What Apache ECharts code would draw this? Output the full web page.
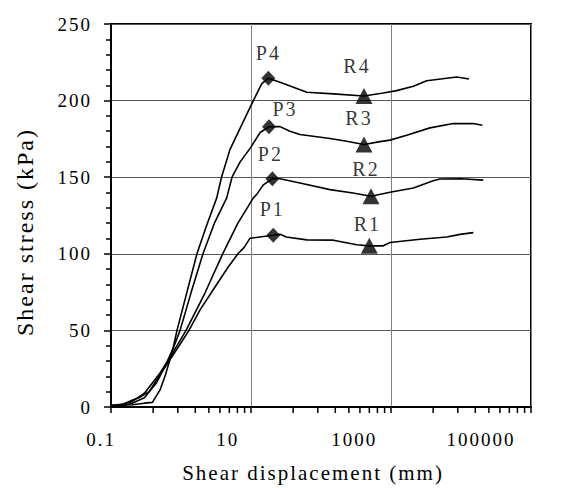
<!DOCTYPE html>
<html><head><meta charset="utf-8">
<script src="https://cdn.jsdelivr.net/npm/echarts@6/dist/echarts.min.js"></script>
<style>
html,body{margin:0;padding:0;background:#fff;}
#chart{width:577px;height:488px;}
#chart text{letter-spacing:2px;font-family:"Liberation Serif",serif !important;}
</style></head><body><div id="chart"></div>
<script>
// ---- data (shear displacement in mm, shear stress in kPa) ----
const xTickLabels = ['0.1', '10', '1000', '100000'];
const xMinorTicks = [0.4, 0.9, 1.6, 2.5, 3.6, 4.9, 6.4, 8.1,
                     40, 90, 160, 250, 360, 490, 640, 810,
                     4000, 9000, 16000, 25000, 36000, 49000, 64000, 81000];

const curve1X = [0.1, 0.13, 0.15, 0.19, 0.25, 0.35, 0.57, 0.9, 1.3, 1.87, 3.06, 4.7, 6.5, 7.94, 9.7, 13.4, 20.8, 26, 32, 62.5, 150, 324, 490, 776, 967, 2600, 6250, 9680, 15000];
const curve1Y = [1, 1, 2, 4, 6, 10, 25, 38.7, 50, 63.4, 78.3, 91.2, 100, 104, 110.2, 111, 112.1, 112.7, 111, 109.1, 108.9, 105.9, 105.2, 105.2, 107.4, 109.5, 111, 112.7, 113.8];

const curve2X = [0.1, 0.15, 0.2, 0.3, 0.5, 0.8, 1.18, 2.2, 3.94, 6.5, 10.8, 12, 15, 20.2, 26, 50, 134.5, 286, 518, 967, 2090, 4000, 5000, 10000, 20800];
const curve2Y = [1, 2, 3.5, 9, 22, 37, 50, 74.4, 100, 120, 136.5, 138.6, 145, 149, 149, 146.2, 141.9, 139.7, 137.6, 140.2, 143, 147.7, 148.8, 149, 148.1];

const curve3X = [0.1, 0.15, 0.2, 0.3, 0.45, 0.6, 0.8, 0.97, 1.4, 2.06, 3, 4.5, 5.35, 7, 9.7, 13.5, 18.1, 26, 36, 50, 134.5, 233, 411, 697, 967, 1675, 3600, 7760, 15000, 20200];
const curve3Y = [1, 1, 2.5, 6, 16, 27, 40, 50, 75, 100, 120, 136.5, 150, 160, 168.8, 179.2, 182.9, 183, 180, 177.9, 175.3, 173.5, 171.4, 173.2, 174.2, 177.4, 182.2, 185, 185, 183.9];

const curve4X = [0.1, 0.2, 0.3, 0.39, 0.5, 0.6, 0.75, 0.877, 1.2, 1.69, 2.3, 3.24, 3.79, 5, 7, 10.8, 14.2, 17.7, 26, 62.7, 150, 411, 776, 1200, 2090, 3240, 6250, 8700, 13000];
const curve4Y = [1, 1.5, 2.5, 3, 11, 21, 36, 50, 74, 100, 118, 136.5, 150, 168, 182, 200, 210.9, 214.6, 212, 205.5, 204.4, 203, 205, 206.5, 209.4, 213, 214.6, 215.4, 214.1];

const peakLabels = ['P1', 'P2', 'P3', 'P4'];
const peakX = [20.8, 20.2, 18.1, 17.7];
const peakY = [112.1, 149, 182.9, 214.6];

const residualLabels = ['R1', 'R2', 'R3', 'R4'];
const residualX = [490, 518, 411, 411];
const residualY = [105.2, 137.6, 171.4, 203];

// ---- layout / styling ----
const FONT = '"Liberation Serif", serif';
// axis variable: number of 100-fold steps above 0.1 mm
const toU = v => Math.log10(v * 10) / 2;
const pairs = (xs, ys) => xs.map((x, i) => [toU(x), ys[i]]);

const peakOffsets = [[-1, -26], [-2, -25], [16, -18], [0, -25]];
const residualOffsets = [[-2, -22], [-5, -27], [-5, -26], [-7, -30]];

const labelItems = (xs, ys, names, offs) => xs.map((x, i) => ({
  value: [toU(x), ys[i]], name: names[i],
  label: { offset: offs[i] }
}));

const lineSeries = [[curve1X, curve1Y], [curve2X, curve2Y], [curve3X, curve3Y], [curve4X, curve4Y]]
  .map(([xs, ys], i) => ({
    type: 'line', name: 'curve' + (i + 1), data: pairs(xs, ys),
    symbol: 'none', lineStyle: { color: '#000', width: 1.6 }, z: 3, silent: true
  }));

const pointLabel = {
  show: true, position: 'inside', formatter: '{b}', color: '#000',
  fontFamily: FONT, fontSize: 20, align: 'center', verticalAlign: 'middle'
};

const chart = echarts.init(document.getElementById('chart'), null, { renderer: 'svg' });
chart.setOption({
  animation: false,
  backgroundColor: '#fff',
  textStyle: { fontFamily: FONT },
  grid: [
    { left: 111, top: 24, width: 420, height: 387, show: true, borderColor: '#000', borderWidth: 2, containLabel: false },
    { left: 101, top: 24, width: 380, height: 387, show: false, containLabel: false }
  ],
  xAxis: [{
    type: 'value', gridIndex: 0, min: 0, max: 3, interval: 1,
    name: 'Shear displacement (mm)', nameLocation: 'middle', nameGap: 55,
    nameTextStyle: { fontFamily: FONT, fontSize: 21, color: '#000', padding: [0, 16, 0, 0] },
    axisLine: { show: true, onZero: false, lineStyle: { color: '#000', width: 2 } },
    axisTick: { show: true, inside: false, length: 6, lineStyle: { color: '#000', width: 1.5 } },
    axisLabel: { show: false },
    splitLine: { show: true, lineStyle: { color: '#808080', width: 1 } }
  }, {
    type: 'value', gridIndex: 1, min: 0, max: 3, interval: 1,
    axisLine: { show: false }, axisTick: { show: false }, splitLine: { show: false },
    axisLabel: {
      show: true, margin: 19, color: '#000', fontFamily: FONT, fontSize: 19,
      formatter: v => xTickLabels[Math.round(v)]
    }
  }],
  yAxis: [{
    type: 'value', gridIndex: 0, min: 0, max: 250, interval: 50,
    name: 'Shear stress (kPa)', nameLocation: 'middle', nameRotate: 90, nameGap: 74,
    nameTextStyle: { fontFamily: FONT, fontSize: 24, color: '#000', padding: [0, 33, 0, 0] },
    axisLine: { show: true, lineStyle: { color: '#000', width: 2 } },
    axisTick: { show: true, inside: false, length: 7, lineStyle: { color: '#000', width: 1.5 } },
    minorTick: { show: true, splitNumber: 5, length: 5, lineStyle: { color: '#000', width: 1.5 } },
    axisLabel: { margin: 19, color: '#000', fontFamily: FONT, fontSize: 19 },
    splitLine: { show: true, lineStyle: { color: '#555', width: 1 } }
  }, {
    type: 'value', gridIndex: 1, min: 0, max: 1, show: false
  }],
  series: [
    ...lineSeries,
    {
      type: 'scatter', name: 'peak', symbol: 'diamond', symbolSize: [14, 15],
      itemStyle: { color: '#000' }, z: 5, silent: true,
      data: labelItems(peakX, peakY, peakLabels, peakOffsets), label: pointLabel
    },
    {
      type: 'scatter', name: 'residual', symbol: 'triangle', symbolSize: [17, 16],
      itemStyle: { color: '#000' }, z: 5, silent: true,
      data: labelItems(residualX, residualY, residualLabels, residualOffsets), label: pointLabel
    },
    {
      type: 'custom', name: 'minorTicks', clip: false, silent: true, z: 4,
      data: xMinorTicks.map(v => [toU(v), 0]),
      renderItem: (params, api) => {
        const p = api.coord([api.value(0), 0]);
        return { type: 'line', shape: { x1: p[0], y1: p[1], x2: p[0], y2: p[1] + 6 },
                 style: { stroke: '#000', lineWidth: 1.5 } };
      }
    }
  ]
});
</script></body></html>
